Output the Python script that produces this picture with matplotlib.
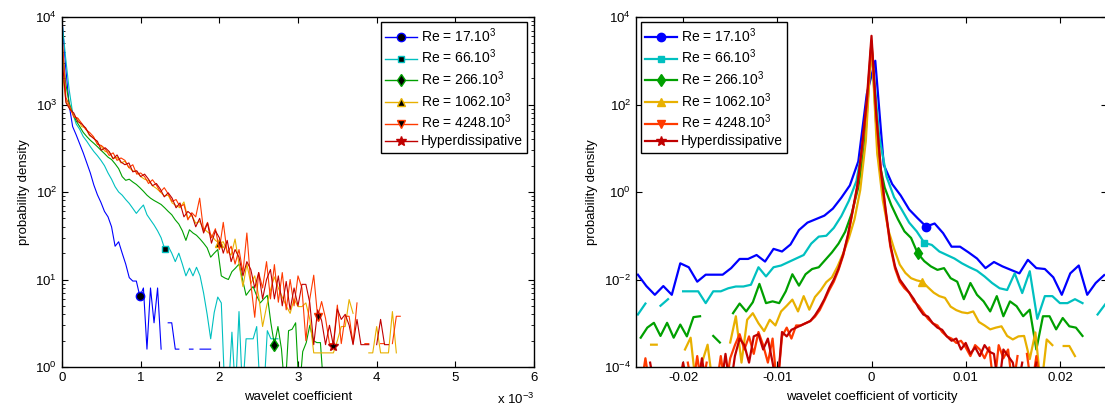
import numpy as np
import matplotlib
matplotlib.use('Agg')
import matplotlib.pyplot as plt
from matplotlib.lines import Line2D
from matplotlib.ticker import FixedLocator, LogLocator, NullFormatter, NullLocator, FixedFormatter

nan = np.nan

plt.rcParams['font.family'] = ['Liberation Sans', 'DejaVu Sans']
plt.rcParams['mathtext.default'] = 'regular'
plt.rcParams['font.size'] = 9.5

labels = ['Re = 17.10$^3$', 'Re = 66.10$^3$', 'Re = 266.10$^3$',
          'Re = 1062.10$^3$', 'Re = 4248.10$^3$', 'Hyperdissipative']
colors = ['#0000ff', '#00c0c0', '#00a000', '#e8b000', '#ff3a00', '#c00000']
markers = ['o', 's', 'd', '^', 'v', '*']
msizes = [6, 4.5, 6, 6, 6, 7.5]

# ---- left panel: pdf of wavelet coefficient (x in units of 1e-3) ----
left_steps = [0.045, 0.045, 0.045, 0.05, 0.05, 0.05]
left_blue = [9500, 2800, 1000, 560, 450, 355, 280, 215, 165, 120, 93, 76, 60, 52, 40, 24, 27, 20,
             15, 10.5, 9.6, 9.6, 6.4, 8.0, 1.6, 8.0, 3.2, 8.0, 1.6, nan, 3.2, 3.2, 1.6, 1.6, nan,
             nan, 1.6, 1.6, nan, 1.6, 1.6, 1.6, 1.6]
left_cyan = [9000, 3500, 1500, 800, 600, 520, 430, 380, 330, 290, 260, 230, 200, 165, 140, 115,
             100, 92, 82, 74, 65, 57, 64, 71, 55, 48, 42, 36, 30, 22.4, 24, 20, 16, 20, 15, 11,
             13.5, 11, 13.8, 11, 7, 4.0, 2.1, 4.2, 6.3, 5.4, 0.5, 0.5, 2.5, 0.5, 4.3, 0.5, 2.1,
             2.1, 2.1, 2.9, 0.5, 0.5, 2.6, 2.1, 2.1, 2.1]
left_green = [5000, 1800, 1050, 800, 650, 560, 480, 430, 390, 360, 330, 300, 275, 250, 235, 210,
              185, 150, 136, 140, 130, 122, 112, 102, 92, 85, 80, 76, 72, 66, 60, 55, 48, 43, 36,
              28, 37, 34, 32, 29, 26, 23, 18, 20, 22, 11, 10.4, 10.0, 12.3, 13.5, 15, 10, 6.6,
              7.5, 8.3, 6.5, 5.4, 6.0, 6.6, 3.2, 1.8, 2.9, 1.6, 0.5, 2.6, 2.7, 3.2, 0.5, 1.5,
              1.9, 3.0, 2.0, 1.9, 1.9, 0.5]
left_yellow = [2500, 1100, 900, 740, 690, 560, 540, 440, 420, 360, 330, 290, 285, 240, 250, 215,
               225, 190, 175, 170, 150, 140, 135, 118, 110, 100, 90, 92, 75, 70, 66, 77, 50, 54,
               44, 46, 38, 35, 32, 28, 26, 27, 21, 19, 29, 15, 8.3, 15, 9, 11, 6.5, 2.9, 4.9,
               7.6, 10.7, 8, 6.3, 5, 4.1, 6, 4.9, 4.9, 5.4, 3.5, 1.45, 1.45, 1.45, 1.45, 1.45,
               1.45, 2.0, 2.9, 2.9, 5.9, 4.1, nan, nan, nan, 1.45, 1.45, 2.9, 1.45, 1.45, 1.45,
               4.3, 1.45]
left_red = [6500, 1200, 950, 720, 700, 610, 520, 480, 430, 350, 340, 310, 262, 280, 230, 245,
            230, 190, 205, 160, 165, 150, 125, 138, 120, 100, 112, 95, 78, 82, 68, 72, 48, 58,
            52, 85, 36, 45, 30, 38, 22, 45, 20, 24, 15, 22, 12, 34, 9, 3.7, 12, 8, 16, 6, 14.8,
            5.5, 12, 4.5, 10, 5, 11, 8, 2.0, 6, 11.2, 3.7, 5.6, 3.6, 1.85, 1.85, 5.1, 1.85, 3.8,
            3.8, 1.85, 5.4, nan, 1.85, 1.85, nan, nan, 1.85, 1.85, nan, 1.85, 3.8, 3.8]
left_darkred = [3500, 1050, 880, 800, 640, 600, 540, 450, 410, 380, 300, 320, 290, 240, 265, 220,
                205, 215, 170, 175, 150, 160, 140, 118, 125, 108, 88, 98, 85, 66, 75, 52, 60,
                55, 40, 50, 34, 44, 26, 36, 30, 20, 28, 16, 22, 18, 11, 16, 13, 8, 12, 6, 10, 13,
                6, 11, 5, 9.5, 4.5, 8, 5, 8.8, 8.8, 5.4, 1.8, 4.5, 3.4, 1.8, 3.0, 1.75, 4.6,
                3.5, 4.0, 3.0, 1.8, 3.5, 1.8, 1.8, 1.8, nan, 1.8, 3.5, 1.8, 1.8]
left_series = [left_blue, left_cyan, left_green, left_yellow, left_red, left_darkred]
left_mark_idx = [22, 29, 60, 40, 65, 69]

# ---- right panel: pdf of vorticity wavelet coefficient (log10 of density, x in 1e-3) ----
right_start = [-24.8, -24.8, -24.5, -24.6, -25.0, -25.0]
right_steps = [0.9, 0.8, 0.7, 0.6, 0.5, 0.5]
right_blue = [-1.89, -2.15, -2.35, -2.15, -2.35, -1.63, -1.72, -2.05, -1.89, -1.89,
              -1.89, -1.74, -1.53, -1.53, -1.44, -1.59, -1.30, -1.36, -1.20, -0.87,
              -0.70, -0.62, -0.54, -0.38, -0.13, 0.15, 0.70, 2.24, 3.00, 0.62,
              0.18, -0.08, -0.40, -0.60, -0.79, -0.72, -0.94, -1.25, -1.25, -1.38,
              -1.52, -1.74, -1.60, -1.70, -1.78, -1.86, -1.55, -1.74, -1.76, -1.95,
              -2.35, -1.86, -1.68, -2.35, -2.08, -1.90]
right_cyan = [-2.80, -2.55, nan, -2.60, -2.45, nan, -2.27, -2.27, -2.27, -2.54,
              -2.27, -2.27, -2.20, -2.16, -2.16, -2.12, -1.72, -1.93, -1.72, -1.68,
              -1.60, -1.52, -1.44, -1.18, -1.02, -1.00, -0.82, -0.55, -0.20, 0.25,
              1.20, 3.30, 1.30, 0.35, -0.12, -0.40, -0.70, -0.90, -1.16, -1.21,
              -1.36, -1.44, -1.52, -1.63, -1.72, -1.80, -1.93, -2.08, -2.20, -2.24,
              -1.86, -2.31, -1.81, -2.90, -2.38, -2.38, -2.54, -2.54, -2.45, -2.54,
              nan, -2.80, -2.57]
right_green = [-3.33, -3.10, -2.99, -3.29, -2.99, -3.33, -3.03, -3.30, -2.86, -2.84,
               nan, -3.29, -3.44, nan, -2.77, -2.55, -2.73, -2.52, -2.10, -2.54,
               -2.50, -2.54, -2.27, -1.88, -2.14, -1.88, -1.76, -1.72, -1.55, -1.38,
               -1.18, -0.91, -0.49, 0.11, 1.10, 3.40, 0.80, 0.10, -0.30, -0.62,
               -0.90, -1.05, -1.40, -1.58, -1.70, -1.78, -1.74, -1.97, -2.05, -2.45,
               -2.08, -2.35, -2.50, -2.73, -2.38, -2.84, -2.50, -2.61, -2.84, -2.69,
               -3.60, -2.84, -2.84, -3.14, -2.88, -3.07, -3.10, -3.29, nan, -3.33, nan]
right_yellow = [nan, nan, -3.49, -3.49, nan, nan, nan, nan, -3.60, -3.33,
                -4.50, -3.90, -3.49, -4.50, nan, nan, -3.44, -2.84, -3.90, -2.92,
                -2.77, -3.00, -3.18, -2.92, -3.05, -2.73, -2.60, -2.46, -2.73, -2.38,
                -2.69, -2.40, -2.25, -2.06, -1.95, -1.70, -1.40, -1.05, -0.62, 0.04,
                1.18, 3.42, 0.90, -0.19, -0.88, -1.30, -1.66, -1.85, -1.97, -2.02,
                -2.05, -2.18, -2.30, -2.38, -2.42, -2.62, -2.70, -2.75, -2.77, -2.73,
                -2.97, -3.05, -3.14, -3.10, -3.07, -3.29, -3.37, -3.30, -3.29, -3.82,
                -3.21, -4.50, -3.37, -3.50, nan, -3.52, -3.52, -3.75, nan, nan,
                nan, nan, nan]
right_red = [nan, -4.5, -3.8, -4.5, nan, nan, nan, nan, nan, -3.9,
             nan, -3.9, -4.5, -3.75, -4.5, -3.9, nan, -4.5, -3.75, -4.5,
             -3.8, -3.5, -3.25, -3.6, -3.3, -3.7, -3.2, -3.5, -3.9, -3.35,
             -4.5, -3.3, -3.1, -3.35, -3.05, -3.05, -3.0, -2.95, -2.85, -2.7,
             -2.48, -2.25, -2.05, -1.78, -1.45, -1.0, -0.45, 0.12, 1.0, 2.0,
             3.45, 1.75, 0.45, -0.45, -1.25, -1.75, -2.05, -2.2, -2.3, -2.5,
             -2.6, -2.75, -2.9, -3.0, -3.05, -3.2, -3.3, -3.35, -3.45, -3.4,
             -3.55, -3.75, -3.5, -3.6, -3.8, -3.55, -4.5, -3.5, -3.8, -3.6,
             -4.5, -3.75, nan, -3.7, -4.5, -3.75, -4.5, nan, nan, nan,
             nan, -3.9, nan, nan, nan, nan, nan, nan, nan, nan, nan]
right_darkred = [nan, -4.5, nan, -3.9, -4.5, nan, nan, nan, nan, -4.5,
                 -3.9, -4.5, nan, -4.5, -3.8, -4.5, nan, nan, -4.5, -3.7,
                 -4.5, -3.75, -3.35, -3.5, -3.9, -3.3, -3.25, -3.6, -3.35, -3.9,
                 -4.5, -3.2, -3.3, -3.15, -3.1, -3.05, -3.0, -2.95, -2.82, -2.65,
                 -2.45, -2.2, -2.0, -1.75, -1.42, -0.98, -0.42, 0.15, 1.05, 2.1,
                 3.57, 1.8, 0.5, -0.4, -1.2, -1.7, -2.0, -2.15, -2.3, -2.45,
                 -2.65, -2.8, -2.85, -3.0, -3.1, -3.15, -3.3, -3.4, -3.35, -3.6,
                 -3.45, -3.7, -3.55, -3.75, -3.5, -3.65, -3.7, -4.5, -3.6, -3.75,
                 -3.9, -4.5, -3.9, nan, -4.5, -3.9, nan, nan, nan, nan,
                 nan, nan, nan, nan, nan, nan, nan, nan, nan, nan, nan]
right_series = [right_blue, right_cyan, right_green, right_yellow, right_red, right_darkred]
right_mark_idx = [[34], [38], [42], [50], [], []]

W, H = 1105, 416
fig = plt.figure(figsize=(W / 100, H / 100), dpi=100)
axL = fig.add_axes([62 / W, 1 - 367 / H, (534 - 62) / W, 350 / H])
axR = fig.add_axes([636 / W, 1 - 367 / H, (1107 - 636) / W, 350 / H])

# left panel
for vals, step, c, m, ms, mi in zip(left_series, left_steps, colors, markers, msizes, left_mark_idx):
    x = np.arange(len(vals)) * step
    axL.plot(x, vals, color=c, lw=0.8, marker=m, ms=ms, mfc='k', mec=c,
             markevery=[mi])
axL.set_yscale('log')
axL.set_xlim(0, 6)
axL.set_ylim(1, 1e4)
axL.xaxis.set_major_locator(FixedLocator([0, 1, 2, 3, 4, 5, 6]))
axL.yaxis.set_major_locator(LogLocator(base=10, numticks=10))
axL.yaxis.set_minor_locator(LogLocator(base=10, subs=np.arange(2, 10), numticks=50))
axL.yaxis.set_minor_formatter(NullFormatter())
axL.set_xlabel('wavelet coefficient', labelpad=5)
axL.set_ylabel('probability density')
fig.text(534 / W, 1 - 399 / H, 'x 10$^{-3}$', ha='right', va='center', fontsize=9.5)

# right panel
for vals, x0, step, c, m, ms, mi in zip(right_series, right_start, right_steps, colors, markers,
                                         msizes, right_mark_idx):
    x = (x0 + np.arange(len(vals)) * step) * 1e-3
    y = 10.0 ** np.array(vals)
    axR.plot(x, y, color=c, lw=1.6, marker=m, ms=ms, mfc=c, mec=c, markevery=mi)
axR.set_yscale('log')
axR.set_xlim(-0.025, 0.025)
axR.set_ylim(1e-4, 1e4)
axR.xaxis.set_major_locator(FixedLocator([-0.02, -0.01, 0, 0.01, 0.02]))
axR.xaxis.set_major_formatter(FixedFormatter(['-0.02', '-0.01', '0', '0.01', '0.02']))
axR.yaxis.set_major_locator(FixedLocator([1e-4, 1e-2, 1e0, 1e2, 1e4]))
axR.yaxis.set_minor_locator(NullLocator())
axR.set_xlabel('wavelet coefficient of vorticity', labelpad=5)
axR.set_ylabel('probability density')

for ax in (axL, axR):
    ax.tick_params(which='both', direction='in', top=True, right=True, labelsize=9.5)
    ax.tick_params(which='major', length=4)
    ax.tick_params(which='minor', length=2)
    for s in ax.spines.values():
        s.set_linewidth(1.0)

handlesL = [Line2D([0], [0], color=c, lw=1, marker=m, ms=ms, mfc='k' if m != '*' else c, mec=c)
            for c, m, ms in zip(colors, markers, msizes)]
handlesR = [Line2D([0], [0], color=c, lw=1.6, marker=m, ms=ms, mfc=c, mec=c)
            for c, m, ms in zip(colors, markers, msizes)]
for ax, hs, xl in ((axL, handlesL, 381), (axR, handlesR, 641)):
    leg = ax.legend(hs, labels, loc='upper left', bbox_to_anchor=(xl / W, 1 - 22 / H),
                    bbox_transform=fig.transFigure, borderaxespad=0, fontsize=10,
                    fancybox=False, framealpha=1, edgecolor='k', handlelength=2.3,
                    handletextpad=0.3, labelspacing=0.22, borderpad=0.3)
    leg.get_frame().set_linewidth(1.0)

fig.savefig('out.png', dpi=100)
